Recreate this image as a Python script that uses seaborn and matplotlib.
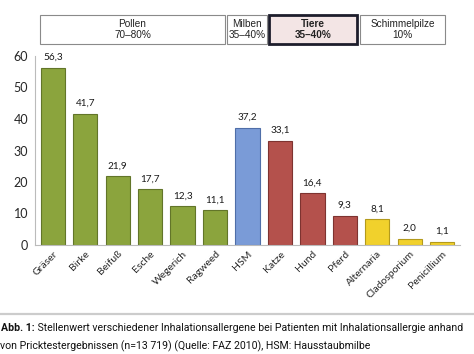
import matplotlib
matplotlib.use("Agg")
import matplotlib.pyplot as plt
import matplotlib.transforms as mtransforms
from matplotlib.patches import Rectangle
import seaborn as sns
import pandas as pd
import numpy as np

allergens = ["Gräser", "Birke", "Beifuß", "Esche", "Wegerich", "Ragweed", "HSM",
             "Katze", "Hund", "Pferd", "Alternaria", "Cladosporium", "Penicillium"]
values = [56.3, 41.7, 21.9, 17.7, 12.3, 11.1, 37.2, 33.1, 16.4, 9.3, 8.1, 2.0, 1.1]
groups = ["Pollen"] * 6 + ["Milben"] + ["Tiere"] * 3 + ["Schimmelpilze"] * 3

group_names = ["Pollen", "Milben", "Tiere", "Schimmelpilze"]
group_texts = ["Pollen\n70–80%", "Milben\n35–40%", "Tiere\n35–40%", "Schimmelpilze\n10%"]
# horizontal extent of each header box, in bar-index units
box_spans = [(-0.40, 5.31), (5.37, 6.60), (6.66, 9.39), (9.48, 12.09)]
group_colors = {"Pollen": "#8ba43d", "Milben": "#7a9bd7",
                "Tiere": "#b4514c", "Schimmelpilze": "#f1d12c"}
edge_colors = {"Pollen": "#627529", "Milben": "#4f6ea8",
               "Tiere": "#7e3330", "Schimmelpilze": "#b39a1c"}

caption_bold = "Abb. 1:"
caption_rest = " Stellenwert verschiedener Inhalationsallergene bei Patienten mit Inhalationsallergie anhand"
caption_line2 = "von Pricktestergebnissen (n=13 719) (Quelle: FAZ 2010), HSM: Hausstaubmilbe"

df = pd.DataFrame({"allergen": allergens, "value": values, "group": groups})

sns.set_style("white")
plt.rcParams["font.family"] = ["Lato", "DejaVu Sans"]

W, H = 474, 354
fig = plt.figure(figsize=(W / 100, H / 100), dpi=100)
ax = fig.add_axes([35 / W, (H - 245) / H, (460 - 35) / W, (245 - 56) / H])

sns.barplot(data=df, x="allergen", y="value", hue="group", palette=group_colors,
            saturation=1, dodge=False, width=0.75, legend=False, ax=ax)
for bar, g in zip(ax.patches, groups):
    bar.set_edgecolor(edge_colors[g])
    bar.set_linewidth(0.8)

for i, v in enumerate(values):
    ax.text(i, v + 1.8, f"{v:.1f}".replace(".", ","), ha="center", va="bottom",
            fontsize=7.2, color="#1a1a1a")

ax.set_ylim(0, 60)
ax.set_xlim(-0.55, len(allergens) - 0.45)
ax.set_yticks(range(0, 61, 10))
ax.set_xlabel("")
ax.set_ylabel("")
ax.tick_params(axis="y", labelsize=9, length=3, color="#aaaaaa", pad=2)
ax.tick_params(axis="x", which="major", length=0, labelsize=7.5, pad=3)
ax.set_xticks(np.arange(len(allergens)) + 0.5, minor=True)
ax.tick_params(axis="x", which="minor", length=3, color="#aaaaaa")
ax.set_xticklabels(allergens, rotation=45, ha="right", rotation_mode="anchor")
for s in ["top", "right"]:
    ax.spines[s].set_visible(False)
for s in ["left", "bottom"]:
    ax.spines[s].set_color("#bbbbbb")
    ax.spines[s].set_linewidth(0.8)

# group boxes above the bars
trans = mtransforms.blended_transform_factory(ax.transData, ax.transAxes)
y0, y1 = 1.063, 1.217
for name, label, (left, right) in zip(group_names, group_texts, box_spans):
    bold = name == "Tiere"
    rect = Rectangle((left, y0), right - left, y1 - y0, transform=trans, clip_on=False,
                     facecolor="#f3e5e5" if bold else "white",
                     edgecolor="#1d1d2b" if bold else "#8a8a8a",
                     linewidth=2 if bold else 0.8)
    ax.add_patch(rect)
    ax.text((left + right) / 2, (y0 + y1) / 2, label, transform=trans, ha="center",
            va="center", fontsize=7.2, linespacing=1.1,
            fontweight="bold" if bold else "normal",
            family=["Liberation Sans", "DejaVu Sans"], color="#222222")

# separator and caption
fig.add_artist(plt.Line2D([0, 1], [1 - 314 / H, 1 - 314 / H], color="#cccccc",
                          linewidth=1.6, transform=fig.transFigure))
cap_font = ["Roboto", "DejaVu Sans"]
renderer = fig.canvas.get_renderer()
fs = 8.0
t1 = fig.text(1 / W, 1 - 328 / H, caption_bold, fontsize=fs, fontweight="bold",
              va="center", ha="left", family=cap_font, color="#111111")
t2 = fig.text(0, 1 - 328 / H, caption_rest, fontsize=fs, va="center", ha="left",
              family=cap_font, color="#111111")
t3 = fig.text(0, 1 - 346 / H, caption_line2, fontsize=fs, va="center", ha="left",
              family=cap_font, color="#111111")
# shrink the caption so the first line ends where it does in the original
w = t1.get_window_extent(renderer).width + t2.get_window_extent(renderer).width
fs = fs * 461 / w
for t in (t1, t2, t3):
    t.set_fontsize(fs)
bb = t1.get_window_extent(renderer)
t2.set_x(bb.x1 / W)

fig.savefig("out.png", dpi=100)
